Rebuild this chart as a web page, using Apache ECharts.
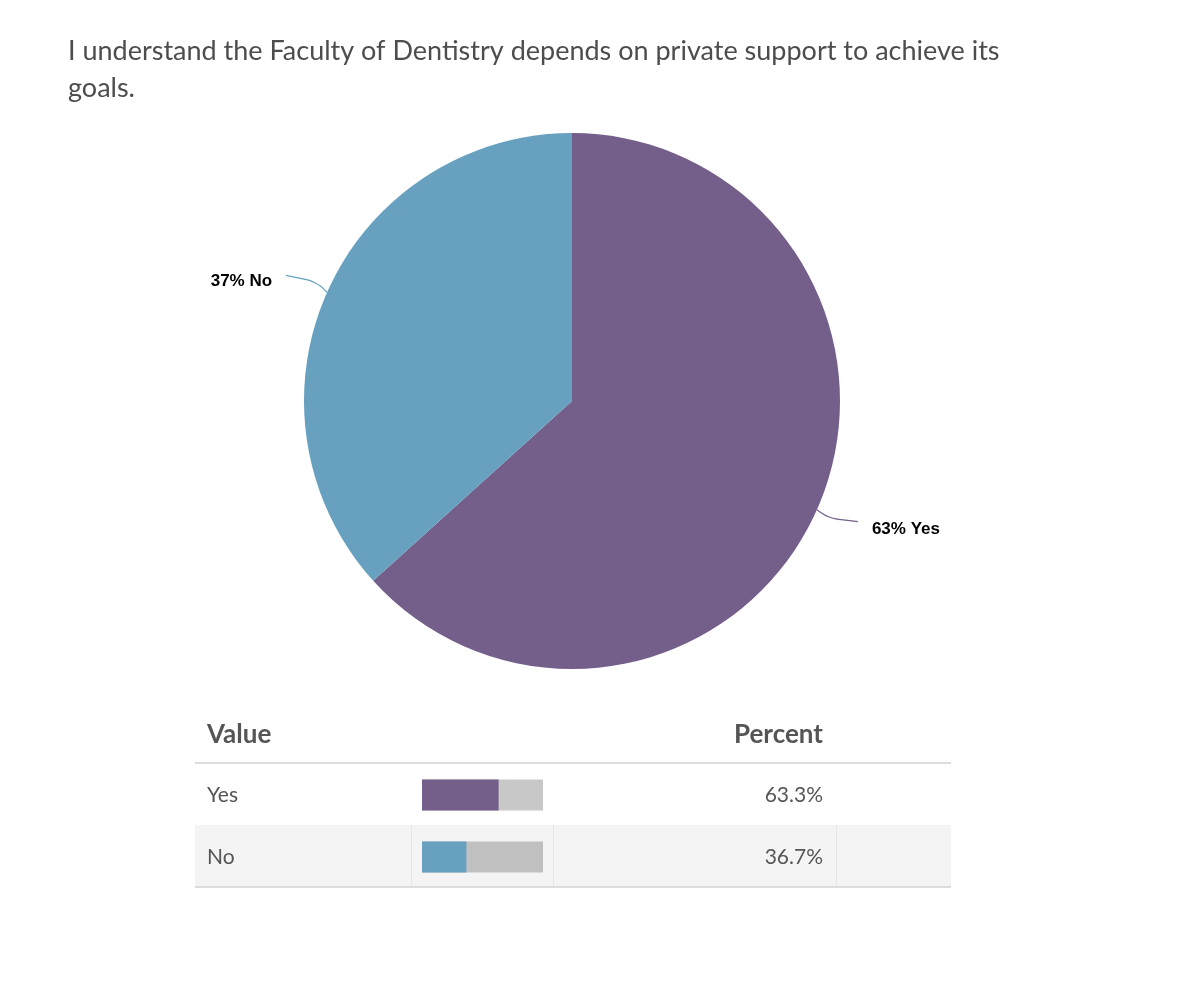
<!DOCTYPE html>
<html>
<head>
<meta charset="utf-8">
<script src="https://cdn.jsdelivr.net/npm/echarts@6/dist/echarts.min.js"></script>
<style>
html,body{margin:0;padding:0;background:#fff;}
#c{width:1178px;height:992px;}
</style>
</head>
<body>
<div id="c"></div>
<script>
const titleText = 'I understand the Faculty of Dentistry depends on private support to achieve its\ngoals.';
const categories = ['Yes', 'No'];
const percents = [63.3, 36.7];
const pieLabels = ['63% Yes', '37% No'];
const colors = ['#745f8a', '#67a1bf'];
const trackColors = ['#c8c8c8', '#c0c0c0'];
const labelShift = [15, -6];
const lineEndShift = [7, -12];

const chart = echarts.init(document.getElementById('c'), null, {renderer: 'canvas'});

const rowCenters = [795, 857];
const graphics = [
  {type: 'text', left: 68, top: 33, style: {text: titleText, font: '27px Lato', fill: '#4d4d4d', lineHeight: 37}},
  {type: 'rect', shape: {x: 195, y: 825, width: 756, height: 62}, style: {fill: '#f4f4f4'}, z: -10},
  {type: 'rect', shape: {x: 195, y: 762, width: 756, height: 2}, style: {fill: '#dddddd'}},
  {type: 'rect', shape: {x: 195, y: 886, width: 756, height: 2}, style: {fill: '#dddddd'}},
  {type: 'rect', shape: {x: 411, y: 825, width: 1, height: 61}, style: {fill: '#e6e6e6'}},
  {type: 'rect', shape: {x: 553, y: 825, width: 1, height: 61}, style: {fill: '#e6e6e6'}},
  {type: 'rect', shape: {x: 836, y: 825, width: 1, height: 61}, style: {fill: '#e6e6e6'}},
  {type: 'text', x: 207, y: 735, style: {text: 'Value', font: 'bold 26px Lato', fill: '#555555', textVerticalAlign: 'middle'}},
  {type: 'text', x: 823, y: 735, style: {text: 'Percent', font: 'bold 26px Lato', fill: '#555555', textAlign: 'right', textVerticalAlign: 'middle'}}
];
categories.forEach((c, i) => {
  graphics.push({type: 'text', x: 207, y: rowCenters[i], style: {text: c, font: '21px Lato', fill: '#555555', textVerticalAlign: 'middle'}});
  graphics.push({type: 'text', x: 823, y: rowCenters[i], style: {text: percents[i].toFixed(1) + '%', font: '21px Lato', fill: '#555555', textAlign: 'right', textVerticalAlign: 'middle'}});
});

chart.setOption({
  animation: false,
  backgroundColor: '#ffffff',
  graphic: graphics,
  grid: {left: 422, width: 121, top: 764, height: 124},
  xAxis: {type: 'value', min: 0, max: 100, show: false},
  yAxis: {type: 'category', data: categories, inverse: true, show: false},
  series: [
    {
      type: 'pie',
      center: [572, 401],
      radius: 268,
      startAngle: 90,
      clockwise: true,
      data: categories.map((c, i) => ({name: c, value: percents[i], itemStyle: {color: colors[i]}, label: {formatter: pieLabels[i]}})),
      label: {
        show: true,
        fontFamily: 'Liberation Sans, Arial, sans-serif',
        fontWeight: 'bold',
        fontSize: 17,
        color: '#000000',
        distanceToLabelLine: 14
      },
      labelLine: {show: true, length: 12, length2: 30, smooth: 0.4, lineStyle: {width: 1.2}},
      labelLayout: function (p) {
        const res = {dy: labelShift[p.dataIndex]};
        if (p.labelLinePoints && p.labelLinePoints.length) {
          const pts = p.labelLinePoints.map(q => [q[0], q[1]]);
          const last = pts.length - 1;
          pts[last][1] += lineEndShift[p.dataIndex];
          if (last > 1) pts[last - 1][1] += lineEndShift[p.dataIndex] * 0.5;
          res.labelLinePoints = pts;
        }
        return res;
      },
      emphasis: {disabled: true}
    },
    {
      type: 'bar',
      barWidth: 31,
      barGap: '-100%',
      data: categories.map((c, i) => ({value: 100, itemStyle: {color: trackColors[i]}})),
      silent: true
    },
    {
      type: 'bar',
      barWidth: 31,
      barGap: '-100%',
      data: categories.map((c, i) => ({value: percents[i], itemStyle: {color: colors[i]}})),
      silent: true
    }
  ]
});
</script>
</body>
</html>
